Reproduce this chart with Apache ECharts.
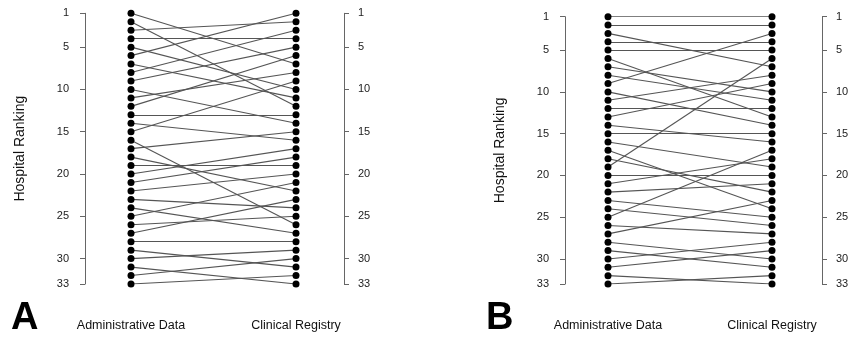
<!DOCTYPE html>
<html><head><meta charset="utf-8">
<script src="https://cdn.jsdelivr.net/npm/echarts@6/dist/echarts.min.js"></script>
<style>html,body{margin:0;padding:0;background:#fff}#c{width:853px;height:339px}</style>
</head><body><div id="c"></div>
<script>
const columns = ['Administrative Data', 'Clinical Registry'];
const panelLetters = ['A', 'B'];
const axisTitle = 'Hospital Ranking';
const tickValues = [1, 5, 10, 15, 20, 25, 30, 33];
const adminRank = [1,2,3,4,5,6,7,8,9,10,11,12,13,14,15,16,17,18,19,20,21,22,23,24,25,26,27,28,29,30,31,32,33];
// registry rank of the hospital holding each administrative rank
const registryRankA = [7,12,2,4,10,1,11,3,5,14,8,6,13,16,9,26,15,22,19,17,18,20,24,27,21,25,23,28,31,29,33,30,32];
const registryRankB = [1,2,7,4,5,13,10,11,3,14,8,12,9,16,15,19,24,22,6,20,18,21,25,26,17,27,23,30,31,28,29,33,32];

const chart = echarts.init(document.getElementById('c'), null, {renderer: 'canvas'});
const font = 'Liberation Sans, Arial, sans-serif';

const layouts = [
  {left: 85, top: 13.3, width: 259, height: 270.7, xmin: -46/165, xmax: 1 + 48/165, letterX: 11},
  {left: 565, top: 16.7, width: 257, height: 267.3, xmin: -43/164, xmax: 1 + 50/164, letterX: 486}
];
const registries = [registryRankA, registryRankB];

const grid = [], xAxis = [], yAxis = [], series = [], graphic = [];
layouts.forEach((L, p) => {
  grid.push({left: L.left, top: L.top, width: L.width, height: L.height});
  xAxis.push({
    type: 'value', gridIndex: p, min: L.xmin, max: L.xmax,
    axisLine: {show: false, onZero: false}, axisTick: {show: false}, splitLine: {show: false},
    axisLabel: {customValues: [0, 1], formatter: v => columns[Math.round(v)], margin: 35,
      fontFamily: font, fontSize: 12.5, color: '#111'}
  });
  const yBase = {
    type: 'value', gridIndex: p, min: 1, max: 33, inverse: true,
    splitLine: {show: false},
    axisLine: {show: true, onZero: false, lineStyle: {color: '#666', width: 1}},
    axisTick: {show: true, length: 5, customValues: tickValues, lineStyle: {color: '#666', width: 1}},
    axisLabel: {customValues: tickValues, fontFamily: font, fontSize: 11, color: '#222'}
  };
  yAxis.push(Object.assign({}, yBase, {
    position: 'left', name: axisTitle, nameLocation: 'middle', nameRotate: 90, nameGap: 58,
    nameTextStyle: {fontFamily: font, fontSize: 14, color: '#111'},
    axisLabel: Object.assign({}, yBase.axisLabel, {margin: 16})
  }));
  yAxis.push(Object.assign({}, yBase, {
    position: 'right', axisLabel: Object.assign({}, yBase.axisLabel, {margin: 14})
  }));
  const reg = registries[p];
  series.push({
    type: 'lines', coordinateSystem: 'cartesian2d', xAxisIndex: p, yAxisIndex: 2 * p, silent: true,
    lineStyle: {color: '#555', width: 1.1, opacity: 1},
    data: adminRank.map((a, i) => ({coords: [[0, a], [1, reg[i]]]}))
  });
  series.push({
    type: 'scatter', xAxisIndex: p, yAxisIndex: 2 * p, symbolSize: 7, silent: true,
    itemStyle: {color: '#000', opacity: 1},
    data: adminRank.map(a => [0, a]).concat(reg.map(r => [1, r]))
  });
  graphic.push({type: 'text', left: L.letterX, top: 300,
    style: {text: panelLetters[p], font: 'bold 38px ' + font, fill: '#000'}});
});

chart.setOption({animation: false, grid, xAxis, yAxis, series, graphic});
</script></body></html>
